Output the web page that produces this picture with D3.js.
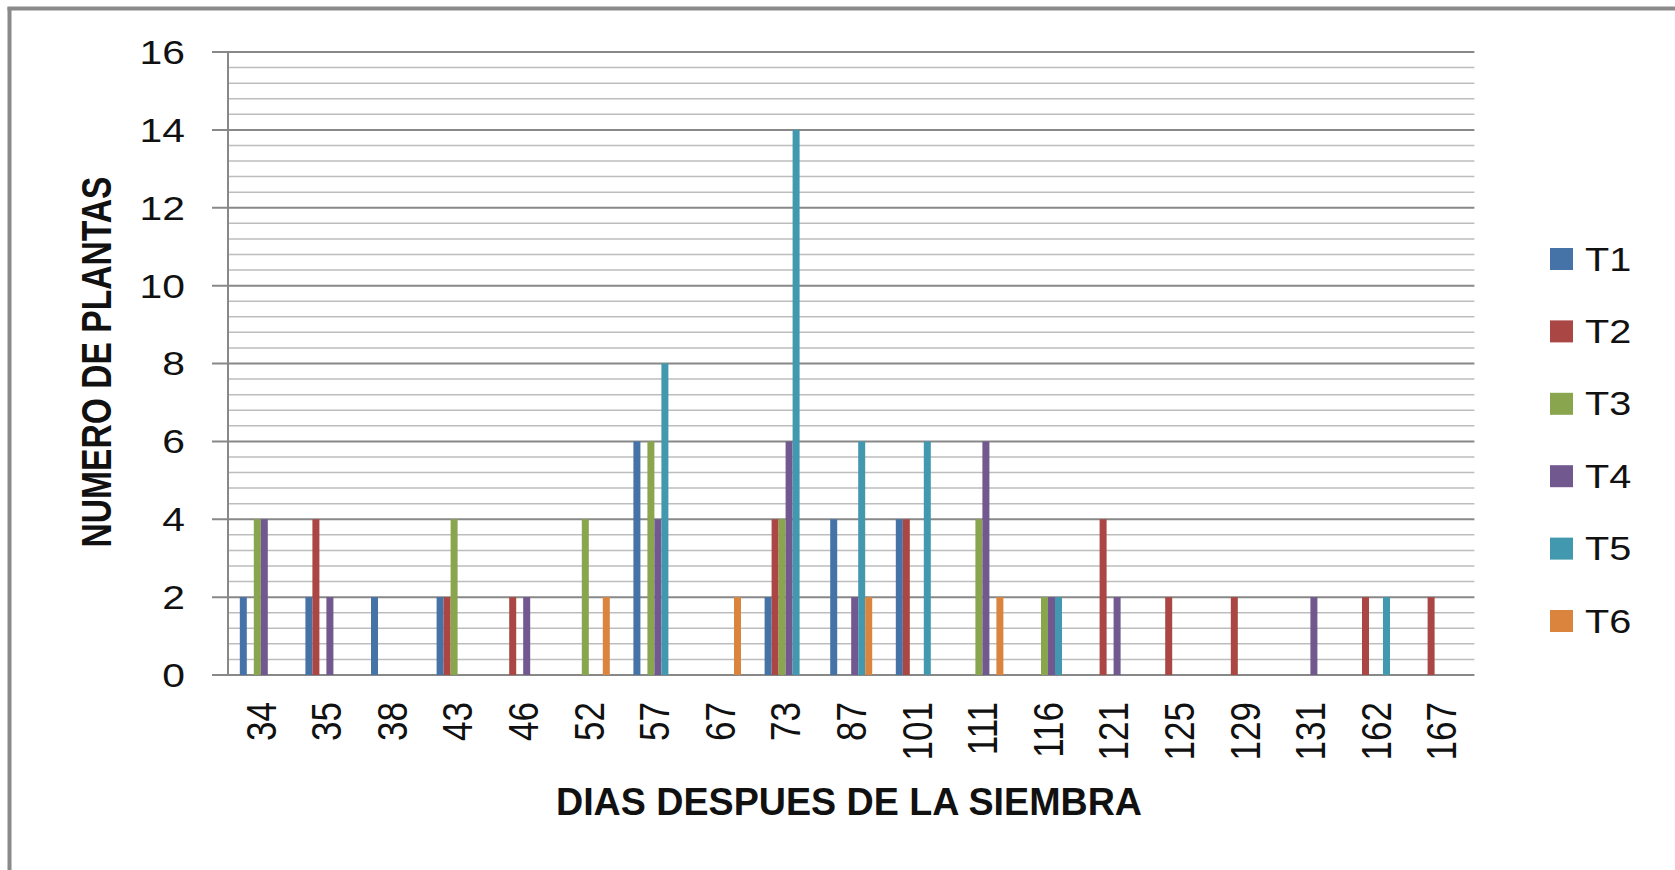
<!DOCTYPE html>
<meta charset="utf-8">
<style>
  body { margin: 0; background: #fff; }
  text { font-family: "Liberation Sans", Arial, sans-serif; fill: #111; }
  .minor { stroke: #bdbdbd; stroke-width: 1.5px; }
  .major { stroke: #888; stroke-width: 2px; }
</style>
<body>
<div id="chart"></div>
<script src="https://d3js.org/d3.v7.min.js"></script>
<script>

  // data
  var days = ["34", "35", "38", "43", "46", "52", "57", "67", "73", "87", "101", "111", "116", "121", "125", "129", "131", "162", "167"];
  var seriesNames = ["T1", "T2", "T3", "T4", "T5", "T6"];
  var t1 = [2, 2, 2, 2, 0, 0, 6, 0, 2, 4, 4, 0, 0, 0, 0, 0, 0, 0, 0];
  var t2 = [0, 4, 0, 2, 2, 0, 0, 0, 4, 0, 4, 0, 0, 4, 2, 2, 0, 2, 2];
  var t3 = [4, 0, 0, 4, 0, 4, 6, 0, 4, 0, 0, 4, 2, 0, 0, 0, 0, 0, 0];
  var t4 = [4, 2, 0, 0, 2, 0, 4, 0, 6, 2, 0, 6, 2, 2, 0, 0, 2, 0, 0];
  var t5 = [0, 0, 0, 0, 0, 0, 8, 0, 14, 6, 6, 0, 2, 0, 0, 0, 0, 2, 0];
  var t6 = [0, 0, 0, 0, 0, 2, 0, 2, 0, 2, 0, 2, 0, 0, 0, 0, 0, 0, 0];
  var yTicks = [0, 2, 4, 6, 8, 10, 12, 14, 16];

  var colors = ["#4572A7", "#AA4643", "#89A54E", "#71588F", "#4198AF", "#DB843D"];
  var values = [t1, t2, t3, t4, t5, t6];

  var W = 1675, H = 870;
  var plotL = 228, plotR = 1474.4, plotT = 52, plotB = 675;

  var svg = d3.select("#chart").append("svg")
    .attr("width", W).attr("height", H);

  // frame (only left and top edges are visible in the original)
  svg.append("line").attr("x1", 9.5).attr("x2", 9.5).attr("y1", 7).attr("y2", H)
    .attr("stroke", "#8a8a8a").attr("stroke-width", 4);
  svg.append("line").attr("x1", 7.5).attr("x2", W).attr("y1", 8.5).attr("y2", 8.5)
    .attr("stroke", "#8a8a8a").attr("stroke-width", 4);

  var x0 = d3.scaleBand().domain(days).range([plotL, plotR])
    .paddingInner(0.36).paddingOuter(0.18);
  var x1 = d3.scaleBand().domain(seriesNames).range([0, x0.bandwidth()]);
  var y = d3.scaleLinear().domain([0, 16]).range([plotB, plotT]);

  // minor gridlines every 0.4
  var minor = d3.range(0, 16.01, 0.4).filter(function (v) { return Math.abs(v / 2 - Math.round(v / 2)) > 0.01; });
  svg.append("g").selectAll("line").data(minor).enter().append("line")
    .attr("class", "minor")
    .attr("x1", plotL).attr("x2", plotR)
    .attr("y1", function (d) { return y(d); }).attr("y2", function (d) { return y(d); });

  // major gridlines + tick marks
  svg.append("g").selectAll("line").data(yTicks).enter().append("line")
    .attr("class", "major")
    .attr("x1", plotL - 16).attr("x2", plotR)
    .attr("y1", function (d) { return y(d); }).attr("y2", function (d) { return y(d); });

  // y axis line
  svg.append("line").attr("class", "major")
    .attr("x1", plotL).attr("x2", plotL).attr("y1", plotT).attr("y2", plotB);

  // bars
  var groups = svg.append("g").selectAll("g").data(days).enter().append("g")
    .attr("transform", function (d) { return "translate(" + x0(d) + ",0)"; });

  groups.selectAll("rect")
    .data(function (d, i) {
      return seriesNames.map(function (s, j) { return { s: s, v: values[j][i], c: colors[j] }; });
    })
    .enter().append("rect")
    .attr("x", function (d) { return x1(d.s); })
    .attr("width", x1.bandwidth())
    .attr("y", function (d) { return y(d.v); })
    .attr("height", function (d) { return plotB - y(d.v); })
    .attr("fill", function (d) { return d.c; });

  // y tick labels
  svg.append("g").selectAll("text").data(yTicks).enter().append("text")
    .attr("transform", function (d) { return "translate(185," + y(d) + ") scale(1.2,1)"; })
    .attr("text-anchor", "end")
    .attr("dy", "0.35em")
    .style("font-size", "34px")
    .text(function (d) { return d; });

  // x tick labels, rotated
  svg.append("g").selectAll("text").data(days).enter().append("text")
    .attr("transform", function (d) {
      return "translate(" + (x0(d) + x0.bandwidth() / 2) + ",702) scale(1.2,1) rotate(-90)";
    })
    .attr("text-anchor", "end")
    .attr("dy", "0.35em")
    .style("font-size", "35px")
    .text(function (d) { return d; });

  // axis titles
  svg.append("text")
    .attr("x", 849).attr("y", 815)
    .attr("text-anchor", "middle")
    .attr("textLength", 586).attr("lengthAdjust", "spacingAndGlyphs")
    .style("font-size", "39px").style("font-weight", "bold")
    .text("DIAS DESPUES DE LA SIEMBRA");

  svg.append("text")
    .attr("transform", "translate(96.7,362) scale(1.2,1) rotate(-90)")
    .attr("text-anchor", "middle")
    .attr("dy", "0.35em")
    .attr("textLength", 371).attr("lengthAdjust", "spacingAndGlyphs")
    .style("font-size", "35px").style("font-weight", "bold")
    .text("NUMERO DE PLANTAS");

  // legend
  var leg = svg.append("g").selectAll("g").data(seriesNames).enter().append("g")
    .attr("transform", function (d, i) { return "translate(1550," + (259 + i * 72.4) + ")"; });
  leg.append("rect")
    .attr("x", 0).attr("y", -11).attr("width", 23).attr("height", 22)
    .attr("fill", function (d, i) { return colors[i]; });
  leg.append("text")
    .attr("transform", "translate(35,0) scale(1.2,1)")
    .attr("dy", "0.35em")
    .style("font-size", "33px")
    .text(function (d) { return d; });

</script>
</body>
